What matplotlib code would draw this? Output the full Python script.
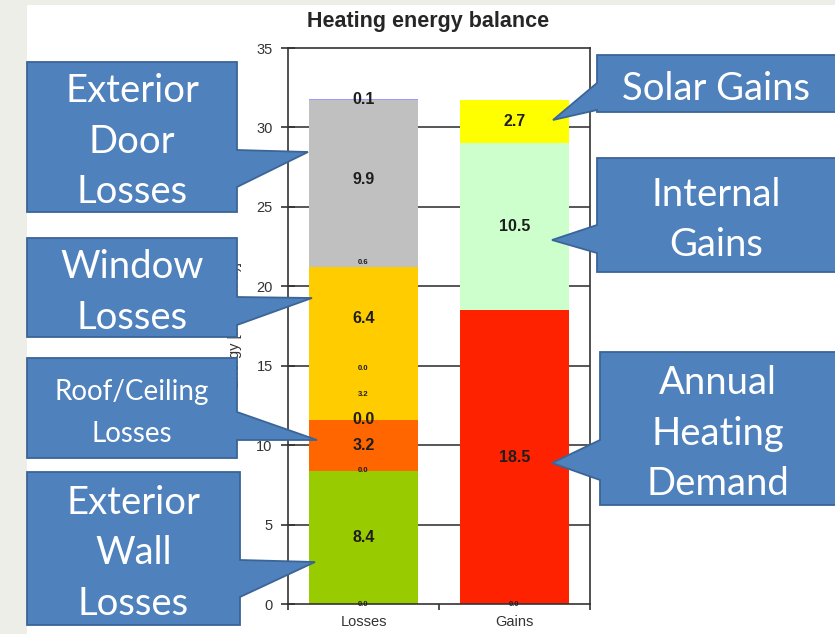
import matplotlib.pyplot as plt
from matplotlib.patches import Polygon, Rectangle

# canvas size in pixels (dpi 100)
W, H = 835, 634

categories = ['Losses', 'Gains']

# stacked segments, bottom to top
loss_values = [0.0, 8.4, 0.0, 3.2, 0.0, 3.2, 0.0, 6.4, 0.6, 9.9, 0.1]
loss_colors = ['#99cc00', '#99cc00', '#ff6600', '#ff6600', '#ffcc00', '#ffcc00',
               '#ffcc00', '#ffcc00', '#c0c0c0', '#c0c0c0', '#9999ff']
loss_big = [False, True, False, True, True, False, False, True, False, True, True]

gain_values = [0.0, 18.5, 10.5, 2.7]
gain_colors = ['#ff2200', '#ff2200', '#ccffcc', '#ffff00']
gain_big = [False, True, True, True]

yticks = [0, 5, 10, 15, 20, 25, 30, 35]


def px(x, y):
    # pixel position (origin top-left) -> figure fraction
    return (x / W, 1 - y / H)


fig = plt.figure(figsize=(W / 100, H / 100), dpi=100, facecolor='white')
# grey slide margin on the left and top
for rx, ry, rw, rh in [(0, 634, 27, 634), (0, 5, W, 5)]:
    fig.patches.append(Rectangle(px(rx, ry), rw / W, rh / H,
                                 transform=fig.transFigure, facecolor='#eeeee9',
                                 edgecolor='none', zorder=-1))

ax = fig.add_axes([288 / W, 30 / H, 302 / W, 556 / H])
ax.set_xlim(-0.5, 1.5)
ax.set_ylim(0, 35)
ax.set_facecolor('white')

for yv in yticks[1:-1]:
    ax.axhline(yv, color='#3a3a3a', lw=1.2, zorder=1)


def stack(xpos, values, colors, big):
    bottom = 0.0
    for v, c, b in zip(values, colors, big):
        ax.bar(xpos, v, bottom=bottom, width=0.72, color=c, edgecolor='none',
               zorder=2)
        ax.text(xpos, bottom + v / 2, f'{v:.1f}', ha='center', va='center',
                fontsize=11.5 if b else 5.5, fontweight='bold', color='#1e1e1e',
                family='Liberation Sans', zorder=3)
        bottom += v


stack(0, loss_values, loss_colors, loss_big)
stack(1, gain_values, gain_colors, gain_big)

ax.set_yticks(yticks)
ax.set_xticks([0, 1])
ax.set_xticklabels(categories)
ax.set_xticks([-0.5, 0.5, 1.5], minor=True)
ax.tick_params(axis='y', direction='inout', length=10, width=1.2, color='#333333',
               labelsize=10.5, pad=6)
ax.tick_params(axis='x', which='major', length=0, labelsize=10.5, pad=8)
ax.tick_params(axis='x', which='minor', direction='out', length=4, width=1.2,
               color='#333333')
for lab in ax.get_xticklabels() + ax.get_yticklabels():
    lab.set_family('Liberation Sans')
    lab.set_color('#333333')
for sp in ax.spines.values():
    sp.set_color('#333333')
    sp.set_linewidth(1.2)

ax.set_ylabel('Energy [kWh/(m²a)]', family='Liberation Sans', fontsize=10.5,
              color='#333333', labelpad=10)

fig.text(*px(428, 22), 'Heating energy balance', ha='center', va='center',
         fontsize=15.5, fontweight='bold', family='Liberation Sans', color='#262626')

# callouts: text, box (x0, y0, x1, y1), side of pointer, pointer base (ya, yb), tip,
# font size, line spacing
callouts = [
    ('Exterior\nDoor\nLosses', (27, 62, 237, 212), 'right', (150, 187), (308, 152), 27.5, 1.5),
    ('Window\nLosses', (27, 238, 237, 337), 'right', (297, 325), (312, 298), 27.5, 1.5),
    ('Roof/Ceiling\nLosses', (27, 358, 237, 458), 'right', (412, 440), (317, 440), 20, 1.75),
    ('Exterior\nWall\nLosses', (27, 472, 240, 625), 'right', (560, 597), (315, 562), 27.5, 1.5),
    ('Solar Gains', (597, 55, 842, 112), 'left', (83, 110), (553, 120), 27.5, 1.5),
    ('Internal\nGains', (597, 158, 842, 272), 'left', (225, 253), (552, 240), 27.5, 1.5),
    ('Annual\nHeating\nDemand', (600, 352, 842, 505), 'left', (440, 480), (552, 463), 27.5, 1.5),
]

for text, (x0, y0, x1, y1), side, (ya, yb), tip, size, spacing in callouts:
    if side == 'right':
        pts = [(x0, y0), (x1, y0), (x1, ya), tip, (x1, yb), (x1, y1), (x0, y1)]
    else:
        pts = [(x0, y0), (x1, y0), (x1, y1), (x0, y1), (x0, yb), tip, (x0, ya)]
    fig.patches.append(Polygon([px(*p) for p in pts], closed=True,
                               transform=fig.transFigure, facecolor='#4f81bd',
                               edgecolor='#3b6597', lw=1.3, zorder=5))
    cx = (x0 + min(x1, W)) / 2
    fig.text(*px(cx, (y0 + y1) / 2 + 5), text, ha='center', va='center',
             fontsize=size, family='Lato', color='white', linespacing=spacing,
             zorder=6)

fig.savefig('out.png', dpi=100, facecolor=fig.get_facecolor())
